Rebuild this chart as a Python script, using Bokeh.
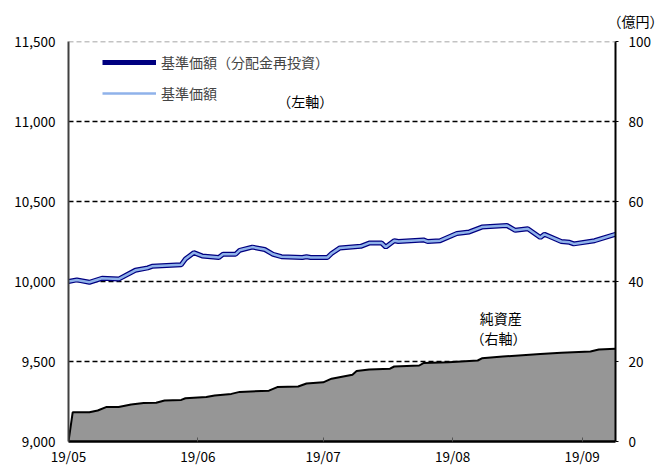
import pandas as pd
from bokeh.plotting import figure
from bokeh.models import (Range1d, LinearAxis, FixedTicker, NumeralTickFormatter, Span, Title,
                          Label, Legend, LegendItem, DatetimeTickFormatter, ColumnDataSource)
from bokeh.embed import file_html
from bokeh.resources import INLINE

# ---- data ----
nav_dates = ["2019-05-01", "2019-05-03", "2019-05-06", "2019-05-09", "2019-05-13", "2019-05-17",
             "2019-05-20", "2019-05-21", "2019-05-28", "2019-05-29", "2019-05-31", "2019-06-02",
             "2019-06-06", "2019-06-07", "2019-06-10", "2019-06-11", "2019-06-14", "2019-06-17",
             "2019-06-19", "2019-06-21", "2019-06-26", "2019-06-27", "2019-06-28", "2019-07-02",
             "2019-07-03", "2019-07-05", "2019-07-10", "2019-07-12", "2019-07-15", "2019-07-16",
             "2019-07-18", "2019-07-19", "2019-07-25", "2019-07-26", "2019-07-29", "2019-08-02",
             "2019-08-05", "2019-08-08", "2019-08-14", "2019-08-16", "2019-08-19", "2019-08-22",
             "2019-08-23", "2019-08-27", "2019-08-29", "2019-08-30", "2019-09-04", "2019-09-09"]
nav_base = [10000, 10010, 9995, 10020, 10015, 10070,
            10085, 10095, 10105, 10140, 10180, 10160,
            10150, 10170, 10170, 10195, 10215, 10200,
            10170, 10155, 10150, 10155, 10150, 10150,
            10175, 10210, 10220, 10240, 10240, 10215,
            10255, 10250, 10260, 10250, 10255, 10300,
            10310, 10340, 10350, 10320, 10330, 10275,
            10295, 10250, 10245, 10235, 10255, 10295]
nav_reinvested = [10000, 10010, 9995, 10020, 10015, 10070,
                  10085, 10095, 10105, 10140, 10180, 10160,
                  10150, 10170, 10170, 10195, 10215, 10200,
                  10170, 10155, 10150, 10155, 10150, 10150,
                  10175, 10210, 10220, 10240, 10240, 10215,
                  10255, 10250, 10260, 10250, 10255, 10300,
                  10310, 10340, 10350, 10320, 10330, 10275,
                  10295, 10250, 10245, 10235, 10255, 10295]

asset_dates = ["2019-05-01", "2019-05-02", "2019-05-06", "2019-05-08", "2019-05-10", "2019-05-13",
               "2019-05-16", "2019-05-19", "2019-05-22", "2019-05-24", "2019-05-28", "2019-05-29",
               "2019-06-03", "2019-06-05", "2019-06-09", "2019-06-11", "2019-06-18", "2019-06-20",
               "2019-06-25", "2019-06-27", "2019-07-01", "2019-07-03", "2019-07-08", "2019-07-09",
               "2019-07-12", "2019-07-17", "2019-07-18", "2019-07-24", "2019-07-25", "2019-07-31",
               "2019-08-07", "2019-08-08", "2019-08-13", "2019-08-22", "2019-08-27", "2019-09-03",
               "2019-09-05", "2019-09-09"]
net_assets = [0, 7.3, 7.3, 7.75, 8.6, 8.6,
              9.25, 9.6, 9.7, 10.25, 10.4, 10.8,
              11.1, 11.5, 11.9, 12.4, 12.7, 13.6,
              13.75, 14.5, 14.8, 15.7, 16.7, 17.6,
              18.0, 18.2, 18.75, 19.0, 19.6, 19.8,
              20.25, 20.8, 21.25, 21.9, 22.2, 22.5,
              23.0, 23.2]

month_ticks = ["2019-05-01", "2019-06-01", "2019-07-01", "2019-08-01", "2019-09-01"]
left_ticks = [9000, 9500, 10000, 10500, 11000, 11500]
grid_ticks = [9500, 10000, 10500, 11000]
right_ticks = [0, 20, 40, 60, 80, 100]

FONT = "Noto Sans CJK JP"
FS_NUM = "13.5px"
FS_JP = "14px"


def ms(s):
    return pd.Timestamp(s).value / 1e6


p = figure(frame_width=547, frame_height=400, x_axis_type="datetime",
           output_backend="svg", toolbar_location=None,
           min_border_left=68, min_border_right=48, min_border_top=41, min_border_bottom=10,
           x_range=Range1d(ms("2019-05-01"), ms("2019-09-09")),
           y_range=Range1d(9000, 11500))
p.extra_y_ranges = {"assets": Range1d(0, 100)}
p.outline_line_color = None
p.background_fill_color = "white"
p.border_fill_color = "white"

# unit caption above the right axis
p.add_layout(Title(text="（億円）", align="right", offset=-48, standoff=19,
                   vertical_align="middle",
                   text_font=FONT, text_font_size=FS_JP, text_font_style="normal",
                   text_color="black"), "above")

# grid
p.xgrid.visible = False
p.ygrid.ticker = FixedTicker(ticks=grid_ticks)
p.ygrid.grid_line_color = "black"
p.ygrid.grid_line_dash = "5 3"
p.ygrid.grid_line_width = 1.5

p.add_layout(Span(location=11500, dimension="width", line_color="#888888",
                  line_dash="5 3", line_width=1.5))

# net assets (right axis)
asrc = ColumnDataSource(dict(x=pd.to_datetime(asset_dates), y=net_assets))
p.varea(x="x", y1=0, y2="y", source=asrc, y_range_name="assets", fill_color="#969696")
p.line(x="x", y="y", source=asrc, y_range_name="assets", line_color="black", line_width=2)

# price lines
nsrc = ColumnDataSource(dict(x=pd.to_datetime(nav_dates), base=nav_base, reinv=nav_reinvested))
r1 = p.line(x="x", y="reinv", source=nsrc, line_color="#000080", line_width=5)
r2 = p.line(x="x", y="base", source=nsrc, line_color="#8FB2EA", line_width=2.5)

# x axis
xa = p.xaxis[0]
xa.ticker = FixedTicker(ticks=[ms(t) for t in month_ticks], minor_ticks=[])
xa.formatter = DatetimeTickFormatter(months="%y/%m", days="%y/%m", hours="%y/%m",
                                     years="%y/%m", minutes="%y/%m", seconds="%y/%m",
                                     milliseconds="%y/%m", minsec="%y/%m", hourmin="%y/%m")
xa.axis_line_color = "black"
xa.axis_line_width = 2.5
xa.major_tick_in = 4
xa.major_tick_out = 0
xa.major_tick_line_color = "#555555"
xa.minor_tick_line_color = None
xa.major_label_standoff = 4
xa.major_label_text_font = FONT
xa.major_label_text_font_size = FS_NUM
xa.major_label_text_color = "black"

# left axis
ya = p.yaxis[0]
ya.ticker = FixedTicker(ticks=left_ticks, minor_ticks=[])
ya.formatter = NumeralTickFormatter(format="0,0")
ya.axis_line_color = "#404040"
ya.axis_line_width = 2
ya.major_tick_in = 0
ya.major_tick_out = 0
ya.minor_tick_line_color = None
ya.major_label_standoff = 13
ya.major_label_text_font = FONT
ya.major_label_text_font_size = FS_NUM
ya.major_label_text_color = "black"

# right axis
ra = LinearAxis(y_range_name="assets", ticker=FixedTicker(ticks=right_ticks, minor_ticks=[]))
ra.axis_line_color = "black"
ra.axis_line_width = 2
ra.major_tick_in = 0
ra.major_tick_out = 3
ra.major_tick_line_color = "black"
ra.minor_tick_line_color = None
ra.major_label_standoff = 10
ra.major_label_text_font = FONT
ra.major_label_text_font_size = FS_NUM
ra.major_label_text_color = "black"
p.add_layout(ra, "right")

# legend
legend = Legend(items=[LegendItem(label="基準価額（分配金再投資）", renderers=[r1]),
                       LegendItem(label="基準価額", renderers=[r2])],
                location=(34, 338), glyph_width=54, glyph_height=20, label_height=20,
                spacing=11, label_standoff=5, padding=0, margin=0,
                border_line_color=None, background_fill_alpha=0,
                label_text_font=FONT, label_text_font_size=FS_JP)
p.add_layout(legend)

# text annotations inside the plot area
def add_label(text, x, y, align):
    p.add_layout(Label(x=ms(x), y=y, text=text, text_align=align, text_baseline="middle",
                       text_font=FONT, text_font_size=FS_JP, text_color="black"))

add_label("（左軸）", "2019-06-20", 11131, "left")
add_label("純資産", "2019-08-12 12:00", 9769, "center")
add_label("（右軸）", "2019-08-12", 9644, "center")

open("out.html", "w").write(file_html(p, INLINE))
